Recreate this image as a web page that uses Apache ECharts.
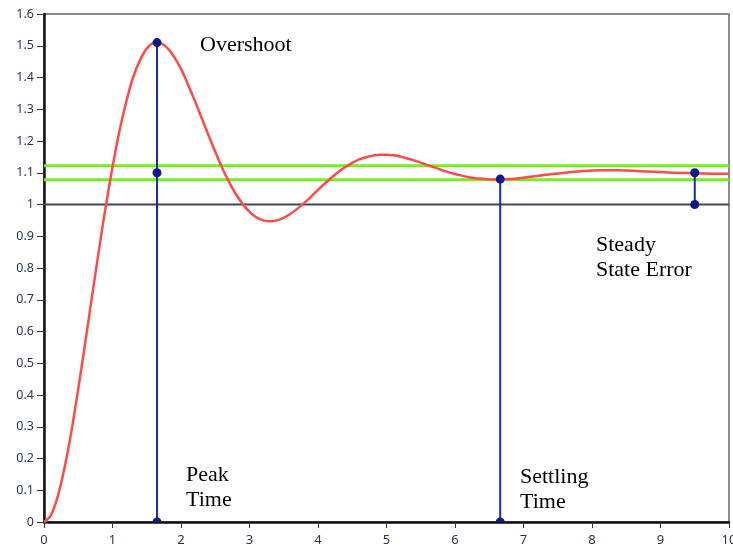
<!DOCTYPE html>
<html>
<head>
<meta charset="utf-8">
<script src="https://cdn.jsdelivr.net/npm/echarts@6/dist/echarts.min.js"></script>
<style>html,body{margin:0;padding:0;background:#fff}#c{width:733px;height:549px}</style>
</head>
<body>
<div id="c"></div>
<script>
const times = [0,0.1,0.2,0.3,0.4,0.5,0.6,0.7,0.8,0.9,1.0,1.1,1.2,1.3,1.4,1.5,1.6,1.7,1.8,1.9,2.0,2.1,2.2,2.3,2.4,2.5,2.6,2.7,2.8,2.9,3.0,3.1,3.2,3.3,3.4,3.5,3.6,3.7,3.8,3.9,4.0,4.1,4.2,4.3,4.4,4.5,4.6,4.7,4.8,4.9,5.0,5.1,5.2,5.3,5.4,5.5,5.6,5.7,5.8,5.9,6.0,6.1,6.2,6.3,6.4,6.5,6.6,6.7,6.8,6.9,7.0,7.2,7.4,7.6,7.8,8.0,8.2,8.4,8.6,8.8,9.0,9.2,9.4,9.6,9.8,10];
const response = [0,0.021,0.080,0.171,0.285,0.419,0.562,0.709,0.854,0.992,1.118,1.230,1.323,1.400,1.454,1.491,1.508,1.508,1.493,1.465,1.427,1.379,1.328,1.273,1.219,1.166,1.116,1.072,1.033,1.002,0.977,0.960,0.950,0.947,0.950,0.958,0.971,0.987,1.005,1.025,1.046,1.066,1.085,1.103,1.118,1.131,1.142,1.149,1.154,1.157,1.157,1.155,1.151,1.145,1.139,1.132,1.124,1.117,1.109,1.102,1.096,1.091,1.086,1.083,1.081,1.079,1.079,1.079,1.080,1.082,1.084,1.090,1.095,1.100,1.104,1.107,1.108,1.108,1.106,1.104,1.102,1.100,1.099,1.098,1.097,1.097];
const referenceLevel = 1.0;
const finalValue = 1.1;
const bandUpper = 1.122;
const bandLower = 1.078;
const peakTime = 1.65;
const peakValue = 1.51;
const settlingTime = 6.66;
const settlingValue = 1.08;
const sseTime = 9.5;
const xRange = [0, 10];

const blue = '#1a2aa8';
const dotColor = '#0c1a8c';
function hline(y, color, width) {
  return { type: 'line', data: [[xRange[0], y], [xRange[1], y]], showSymbol: false, silent: true,
    lineStyle: { color: color, width: width }, z: 2 };
}
function vseg(x, y0, y1) {
  return { type: 'line', data: [[x, y0], [x, y1]], showSymbol: false, silent: true,
    lineStyle: { color: blue, width: 2 }, z: 4 };
}
function dots(pts) {
  return {
    type: 'custom', data: pts, clip: true, silent: true, z: 5,
    renderItem: function (params, api) {
      const p = api.coord([api.value(0), api.value(1)]);
      return { type: 'circle', shape: { cx: p[0], cy: p[1], r: 4.5 }, style: { fill: dotColor } };
    }
  };
}
const serif = '"Liberation Serif", "DejaVu Serif", serif';
function txt(x, y, s) {
  return { type: 'text', left: x, top: y - 11, style: { text: s, font: '22px ' + serif, fill: '#000' }, z: 10 };
}

const chart = echarts.init(document.getElementById('c'));
chart.setOption({
  animation: false,
  backgroundColor: '#fff',
  grid: { left: 44, right: 4, top: 14, bottom: 27, show: true, borderColor: '#666', borderWidth: 1.5,
    containLabel: false, outerBoundsMode: 'none' },
  xAxis: {
    type: 'value', min: 0, max: 10, interval: 1,
    axisLine: { show: true, onZero: false, lineStyle: { color: '#111', width: 2.5 } },
    axisTick: { show: true, length: 6, lineStyle: { color: '#333' } },
    axisLabel: { color: '#2a3550', fontSize: 13, fontFamily: 'Noto Sans', margin: 12 },
    splitLine: { show: false }
  },
  yAxis: {
    type: 'value', min: 0, max: 1.6, interval: 0.1,
    axisLine: { show: true, onZero: false, lineStyle: { color: '#111', width: 2.5 } },
    axisTick: { show: true, length: 7, lineStyle: { color: '#333' } },
    axisLabel: { color: '#2a3550', fontSize: 12.5, fontFamily: 'Noto Sans', margin: 10 },
    splitLine: { show: false }
  },
  series: [
    hline(referenceLevel, '#3c4a58', 2),
    hline(bandUpper, '#77ee22', 3),
    hline(bandLower, '#77ee22', 3),
    { type: 'line', data: times.map((t, i) => [t, response[i]]), smooth: 0.3, showSymbol: false, silent: true,
      lineStyle: { color: '#ff4a4a', width: 2.5 }, z: 3 },
    vseg(peakTime, 0, peakValue),
    vseg(settlingTime, 0, settlingValue),
    vseg(sseTime, referenceLevel, finalValue),
    dots([[peakTime, peakValue], [peakTime, finalValue], [peakTime, 0], [settlingTime, settlingValue], [settlingTime, 0], [sseTime, finalValue], [sseTime, referenceLevel]])
  ],
  graphic: [
    txt(200, 45, 'Overshoot'),
    txt(596, 245, 'Steady'),
    txt(596, 270, 'State Error'),
    txt(186, 475, 'Peak'),
    txt(186, 500, 'Time'),
    txt(520, 477, 'Settling'),
    txt(520, 502, 'Time')
  ]
});
</script>
</body>
</html>
